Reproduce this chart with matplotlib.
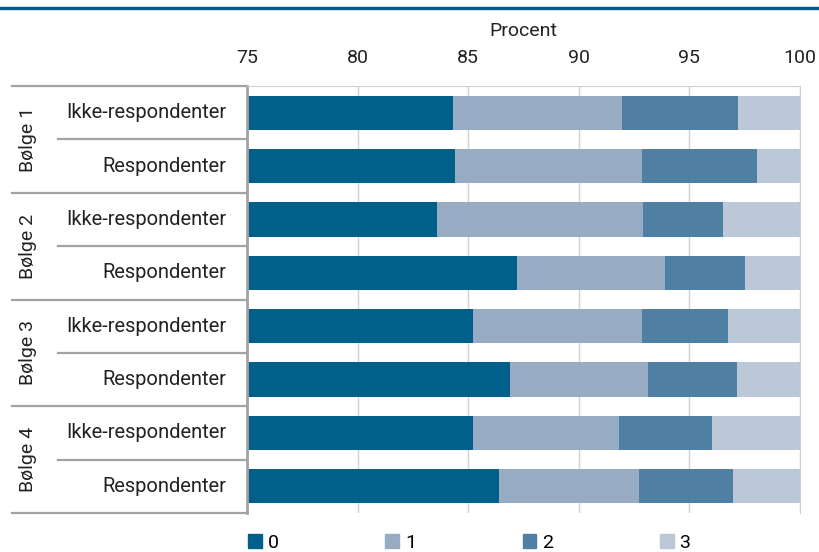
import matplotlib.pyplot as plt
from matplotlib.patches import Patch
from matplotlib.lines import Line2D
from matplotlib import transforms

plt.rcParams['font.family'] = ['Roboto', 'DejaVu Sans']

groups = ['Bølge 1', 'Bølge 2', 'Bølge 3', 'Bølge 4']
rows = ['Ikke-respondenter', 'Respondenter'] * 4
levels = ['0', '1', '2', '3']

# andel i procent pr. række (rækkefølge: Bølge 1 ikke-resp., Bølge 1 resp., ...)
share_0 = [84.3, 84.4, 83.6, 87.2, 85.2, 86.9, 85.2, 86.4]
share_1 = [7.65, 8.45, 9.3, 6.7, 7.65, 6.25, 6.6, 6.3]
share_2 = [5.25, 5.2, 3.6, 3.6, 3.9, 4.0, 4.2, 4.25]
share_3 = [2.8, 1.95, 3.5, 2.5, 3.25, 2.85, 4.0, 3.05]

colors = ['#00608a', '#97acc3', '#507fa4', '#bcc8d8']
grey = '#a3a3a3'
txt = '#222222'
fs = 14

fig = plt.figure(figsize=(8.19, 5.52), dpi=100)
ax = fig.add_axes([247 / 819, 39 / 552, 553 / 819, 427 / 552])

y = list(range(len(rows)))
left = [0] * len(rows)
for vals, col in zip([share_0, share_1, share_2, share_3], colors):
    ax.barh(y, vals, left=left, height=0.64, color=col, zorder=2)
    left = [a + b for a, b in zip(left, vals)]

ax.set_xlim(75, 100)
ax.set_ylim(len(rows) - 0.5, -0.5)
ax.xaxis.tick_top()
ax.xaxis.set_label_position('top')
ax.set_xticks([75, 80, 85, 90, 95, 100])
ax.tick_params(axis='x', length=0, labelsize=fs, pad=14, colors=txt)
ax.set_xlabel('Procent', fontsize=fs, labelpad=9, color=txt)
ax.set_yticks([])
ax.grid(axis='x', color='#d0d0d0', linewidth=1, zorder=0)
for s in ['top', 'right']:
    ax.spines[s].set_color('#cfcfcf')
ax.spines['bottom'].set_visible(False)
ax.spines['left'].set_color(grey)
ax.spines['left'].set_linewidth(2)

# venstre tabel med gruppe- og rækkeetiketter
trans = transforms.blended_transform_factory(fig.transFigure, ax.transData)
x0, x1, x2 = 12 / 819, 58 / 819, 247 / 819
for b in [-0.5, 1.5, 3.5, 5.5, 7.5]:
    ax.add_line(Line2D([x0, x2], [b, b], transform=trans, color=grey,
                       linewidth=1.6, clip_on=False))
for b in [0.5, 2.5, 4.5, 6.5]:
    ax.add_line(Line2D([x1, x2], [b, b], transform=trans, color=grey,
                       linewidth=1.6, clip_on=False))
for i, name in enumerate(rows):
    ax.text(226 / 819, i, name, transform=trans, ha='right', va='center',
            fontsize=14.5, color=txt)
for g, name in enumerate(groups):
    ax.text(28 / 819, 2 * g + 0.5, name, transform=trans, ha='center',
            va='center', rotation=90, fontsize=fs, color=txt)

fig.add_artist(Line2D([0, 1], [1 - 8 / 552] * 2, color='#005a87', linewidth=2.4))

handles = [Patch(color=c, label=l) for c, l in zip(colors, levels)]
fig.legend(handles=handles, loc='center left', bbox_to_anchor=(248 / 819, 9 / 552),
           ncol=4, frameon=False, fontsize=fs, handlelength=0.7, handleheight=0.7,
           handletextpad=0.3, columnspacing=5.5, borderaxespad=0, borderpad=0)

fig.savefig('out.png', dpi=100)
